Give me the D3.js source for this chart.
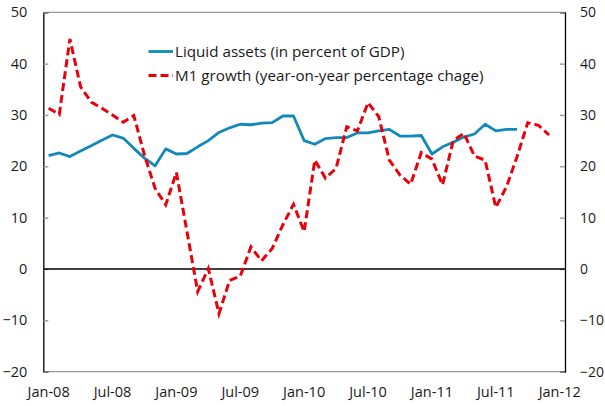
<!DOCTYPE html>
<html><head><meta charset="utf-8">
<script src="https://cdn.jsdelivr.net/npm/d3@7"></script>
<style>
body{margin:0;background:#fff;}
text{font-family:"Open Sans",sans-serif;fill:#1a1a1a;}
</style></head>
<body><svg id="c" width="605" height="406"></svg>
<script>
const years = ["08","09","10","11","12"];
const monthNames = ["Jan","Feb","Mar","Apr","May","Jun","Jul","Aug","Sep","Oct","Nov","Dec"];
const categories = [];
years.forEach(y => monthNames.forEach(m => { if (categories.length < 49) categories.push(m + "-" + y); }));
const tickLabels = ["Jan-08","Jul-08","Jan-09","Jul-09","Jan-10","Jul-10","Jan-11","Jul-11","Jan-12"];
const yTicks = [-20,-10,0,10,20,30,40,50];
const liquidAssets = [22.1,22.6,21.9,23.0,24.0,25.1,26.1,25.5,23.5,21.6,20.1,23.4,22.4,22.5,23.8,25.0,26.6,27.5,28.2,28.1,28.4,28.5,29.8,29.8,25.0,24.3,25.4,25.6,25.6,26.5,26.5,26.9,27.2,25.9,25.9,26.0,22.4,23.8,24.7,25.7,26.3,28.2,26.9,27.2,27.2];
const m1Growth = [31.3,30.1,44.8,35.5,32.5,31.3,30.0,28.6,29.9,22.2,15.7,12.5,18.8,7.2,-4.4,0.1,-8.7,-2.2,-1.4,4.3,1.6,4.0,8.6,12.6,7.3,21.2,17.7,19.6,27.7,26.9,32.4,29.7,21.2,18.3,16.5,22.7,21.4,16.4,25.0,26.4,22.0,21.2,12.0,16.0,21.9,28.5,28.0,26.1];
const seriesNames = ["Liquid assets (in percent of GDP)","M1 growth (year-on-year percentage chage)"];

const svg = d3.select("#c");
const L=43.3, R=565, T=12.3, B=371.7;
const x = d3.scaleBand().domain(categories).range([L,R]).paddingInner(0).paddingOuter(0);
const y = d3.scaleLinear().domain([-20,50]).range([B,T]);
const cx = i => x(categories[i]) + x.bandwidth()/2;

// frame
svg.append("line").attr("x1",L).attr("x2",R).attr("y1",T).attr("y2",T).attr("stroke","#808080").attr("stroke-width",1);
svg.append("line").attr("x1",L).attr("x2",R).attr("y1",B).attr("y2",B).attr("stroke","#808080").attr("stroke-width",1);

// left axis
const ga = svg.append("g").attr("transform",`translate(${L},0)`)
  .call(d3.axisLeft(y).tickValues(yTicks).tickSize(-5).tickPadding(16).tickFormat(d3.format("d")));
ga.select(".domain").attr("stroke","#000").attr("stroke-width",1.3);
ga.selectAll(".tick line").attr("stroke","#909090").attr("stroke-width",1.3);
ga.selectAll("text").style("font-size","14.5px").attr("fill","#1a1a1a");

const gr = svg.append("g").attr("transform",`translate(${R},0)`)
  .call(d3.axisRight(y).tickValues(yTicks).tickSize(-5).tickPadding(15).tickFormat(d3.format("d")));
gr.select(".domain").attr("stroke","#000").attr("stroke-width",1.3);
gr.selectAll(".tick line").attr("stroke","#909090").attr("stroke-width",1.3);
gr.selectAll("text").style("font-size","14px").attr("fill","#1a1a1a");

// x axis labels
const gx = svg.append("g").attr("transform",`translate(0,${B})`)
  .call(d3.axisBottom(x).tickValues(tickLabels).tickSize(0).tickPadding(15));
gx.select(".domain").remove();
gx.selectAll("text").style("font-size","14.5px").attr("fill","#1a1a1a");

// zero line
svg.append("line").attr("x1",L).attr("x2",R).attr("y1",y(0)).attr("y2",y(0)).attr("stroke","#000").attr("stroke-width",1.3);

const line = d3.line().x((d,i)=>cx(i)).y(d=>y(d));
svg.append("path").datum(liquidAssets).attr("d",line).attr("fill","none")
  .attr("stroke","#1289b8").attr("stroke-width",2.8).attr("stroke-linejoin","round");
svg.append("path").datum(m1Growth).attr("d",line).attr("fill","none")
  .attr("stroke","#e8000b").attr("stroke-width",3).attr("stroke-dasharray","8,4");

// legend
const lg = svg.append("g");
[[0,"#1289b8",null],[1,"#e8000b","8,4"]].forEach(([k,c,da])=>{
  const yy = 51.5 + k*24;
  const ln = lg.append("line").attr("x1",148.5).attr("x2",173).attr("y1",yy).attr("y2",yy)
    .attr("stroke",c).attr("stroke-width",k?3:2.8);
  if (da) ln.attr("stroke-dasharray",da);
  lg.append("text").attr("x",175).attr("y",yy).attr("dy","0.35em").style("font-size","15.2px").text(seriesNames[k]);
});
</script></body></html>
